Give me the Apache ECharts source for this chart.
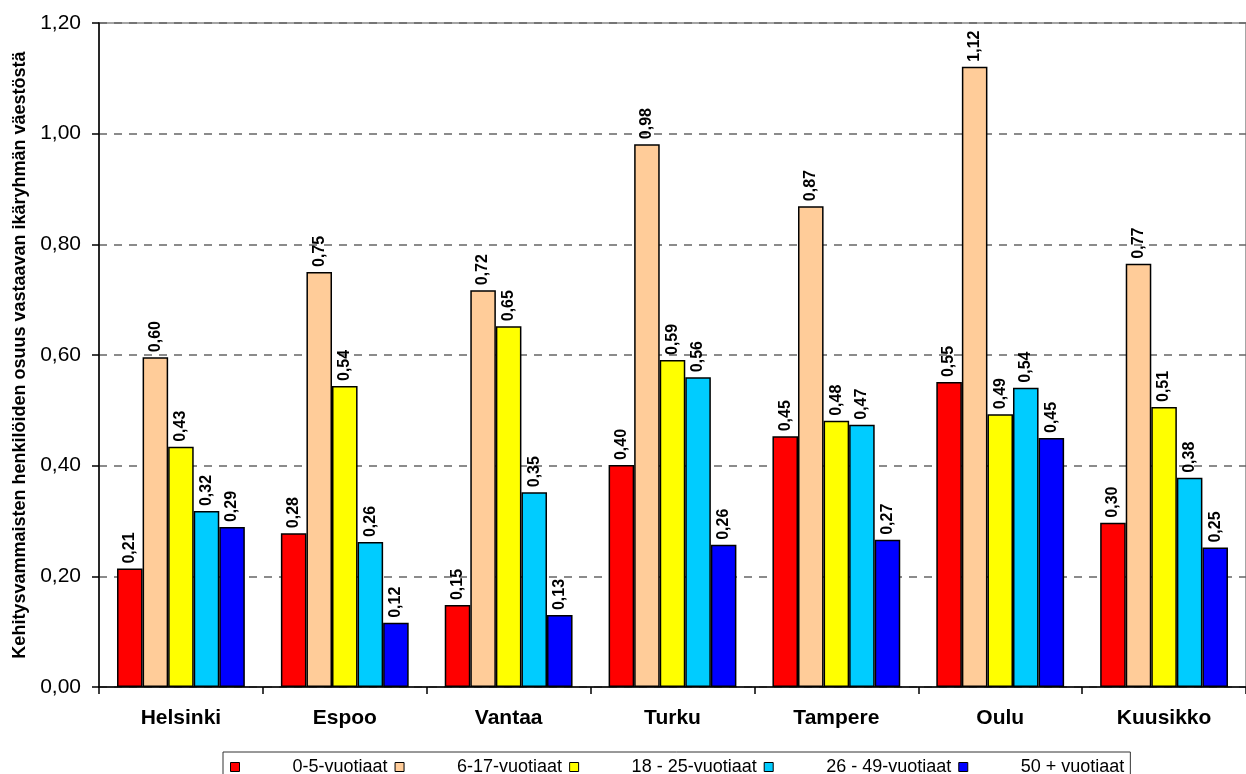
<!DOCTYPE html>
<html>
<head>
<meta charset="utf-8">
<script src="https://cdn.jsdelivr.net/npm/echarts@6/dist/echarts.min.js"></script>
<style>
html,body{margin:0;padding:0;background:#fff;}
#chart{width:1246px;height:774px;}
</style>
</head>
<body>
<div id="chart"></div>
<script>
var categories = ['Helsinki', 'Espoo', 'Vantaa', 'Turku', 'Tampere', 'Oulu', 'Kuusikko'];
var seriesNames = ['0-5-vuotiaat', '6-17-vuotiaat', '18 - 25-vuotiaat', '26 - 49-vuotiaat', '50 + vuotiaat'];
var seriesColors = ['#FF0000', '#FFCC99', '#FFFF00', '#00CCFF', '#0000FF'];
var age0_5   = [0.214, 0.278, 0.148, 0.401, 0.453, 0.551, 0.297];
var age6_17  = [0.596, 0.750, 0.717, 0.981, 0.869, 1.121, 0.765];
var age18_25 = [0.434, 0.544, 0.652, 0.591, 0.481, 0.493, 0.506];
var age26_49 = [0.318, 0.262, 0.352, 0.560, 0.474, 0.541, 0.378];
var age50    = [0.289, 0.116, 0.130, 0.257, 0.266, 0.450, 0.252];
var yTicks = { min: 0, max: 1.2, interval: 0.2 };
var yTitle = 'Kehitysvammaisten henkilöiden osuus vastaavan ikäryhmän väestöstä';

var allData = [age0_5, age6_17, age18_25, age26_49, age50];
function fmt(v){ return v.toFixed(2).replace('.', ','); }
var FONT = 'Arial, Liberation Sans, sans-serif';

var series = allData.map(function(d, i){
  return {
    name: seriesNames[i],
    type: 'bar',
    data: d,
    barGap: '0%',
    barCategoryGap: '22%',
    itemStyle: { color: seriesColors[i], borderColor: '#000', borderWidth: 1.5 },
    label: {
      show: true, position: 'top', rotate: 90, align: 'left', verticalAlign: 'middle',
      distance: 5, color: '#000', fontFamily: FONT,
      fontWeight: 'bold', fontSize: 16,
      formatter: function(p){ return fmt(p.value); }
    }
  };
});

var chart = echarts.init(document.getElementById('chart'));
chart.setOption({
  animation: false,
  backgroundColor: '#fff',
  grid: { left: 99, right: 0, top: 23, bottom: 87, show: true, borderColor: '#888', borderWidth: 1.5 },
  legend: {
    left: 223, top: 752,
    padding: [4, 6, 6, 7],
    borderColor: '#333', borderWidth: 1, backgroundColor: '#fff',
    itemWidth: 9, itemHeight: 9, itemGap: 7,
    icon: 'rect',
    itemStyle: { borderColor: '#000', borderWidth: 1 },
    textStyle: { fontFamily: FONT, fontSize: 18, color: '#000', padding: [0, 0, 0, 48], lineHeight: 22 },
    data: seriesNames
  },
  xAxis: {
    type: 'category', data: categories,
    axisLine: { lineStyle: { color: '#000', width: 1.5 } },
    axisTick: { show: true, length: 7, lineStyle: { color: '#000', width: 1.5 } },
    axisLabel: { margin: 21, color: '#000', fontFamily: FONT, fontWeight: 'bold', fontSize: 21 }
  },
  yAxis: {
    type: 'value', min: yTicks.min, max: yTicks.max, interval: yTicks.interval,
    name: yTitle, nameLocation: 'middle', nameGap: 69,
    nameTextStyle: { fontFamily: FONT, fontWeight: 'bold', fontSize: 18, color: '#000' },
    axisLine: { show: true, lineStyle: { color: '#000', width: 1.5 } },
    axisTick: { show: true, length: 7, lineStyle: { color: '#000', width: 1.5 } },
    axisLabel: { margin: 18, color: '#000', fontFamily: FONT, fontSize: 21,
      formatter: function(v){ return fmt(v); } },
    splitLine: { show: true, lineStyle: { color: '#666', width: 1.5, type: [8, 7] } }
  },
  series: series
});
</script>
</body>
</html>
